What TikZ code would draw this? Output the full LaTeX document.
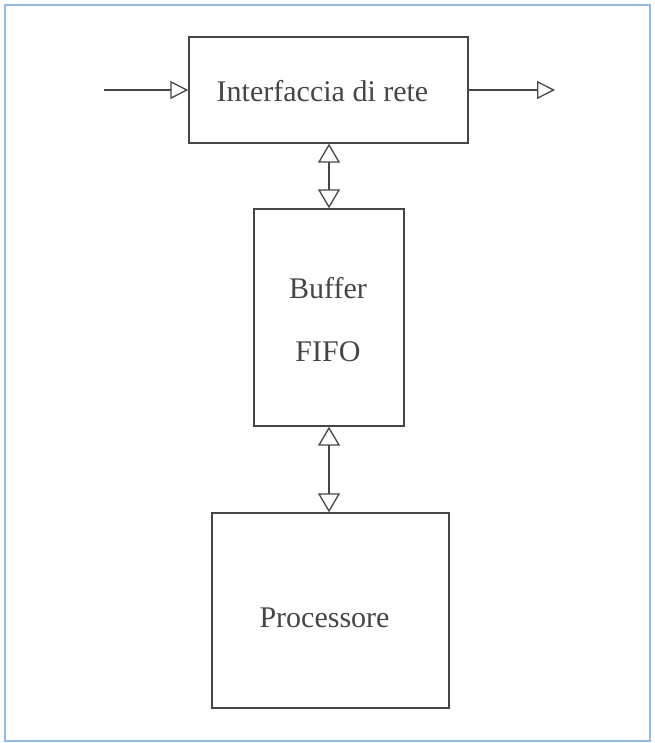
\documentclass[tikz,border=0pt]{standalone}
\usepackage{fontspec}
\setmainfont{Liberation Serif}
\usetikzlibrary{arrows.meta}
\definecolor{ink}{RGB}{70,70,70}
\definecolor{frameblue}{RGB}{150,185,230}
\tikzset{
  block/.style={draw=ink, line width=1.4pt, fill=white, inner sep=0pt},
  caption/.style={inner sep=0pt, text=ink, font=\fontsize{30}{34}\selectfont},
  flow/.style={draw=ink, line width=1.4pt,
    -{Triangle[open, length=18pt, width=18pt, line width=1.3pt]}},
  both/.style={draw=ink, line width=1.4pt,
    {Triangle[open, length=19pt, width=22pt, line width=1.3pt]}-{Triangle[open, length=19pt, width=22pt, line width=1.3pt]}}
}
\begin{document}
\begin{tikzpicture}[x=1pt, y=-1pt]
  \useasboundingbox (0,0) rectangle (654,743);
  % outer frame
  \draw[frameblue, line width=1.6pt] (5,5) rectangle (650,741);

  % blocks
  \node[block, minimum width=279pt, minimum height=106pt] (net) at (328.5,90) {};
  \node[block, minimum width=150pt, minimum height=217pt] (buf) at (329,317.5) {};
  \node[block, minimum width=237pt, minimum height=195pt] (proc) at (330.5,610.5) {};

  % block captions
  \node[caption] (netlbl) at (322.5,91) {Interfaccia di rete};
  \node[caption] (buflbl1) at (328,288) {Buffer};
  \node[caption] (buflbl2) at (328,352) {FIFO};
  \node[caption] (proclbl) at (324.5,618) {Processore};

  % network input and output
  \coordinate (in) at (104,90);
  \coordinate (out) at (555,90);
  \draw[flow] (in) -- (net.west);
  \draw[flow] (net.east) -- (out);

  % bidirectional links
  \draw[both] (net.south -| buf.north) -- (buf.north);
  \draw[both] (buf.south) -- (buf.south |- proc.north);
\end{tikzpicture}
\end{document}
